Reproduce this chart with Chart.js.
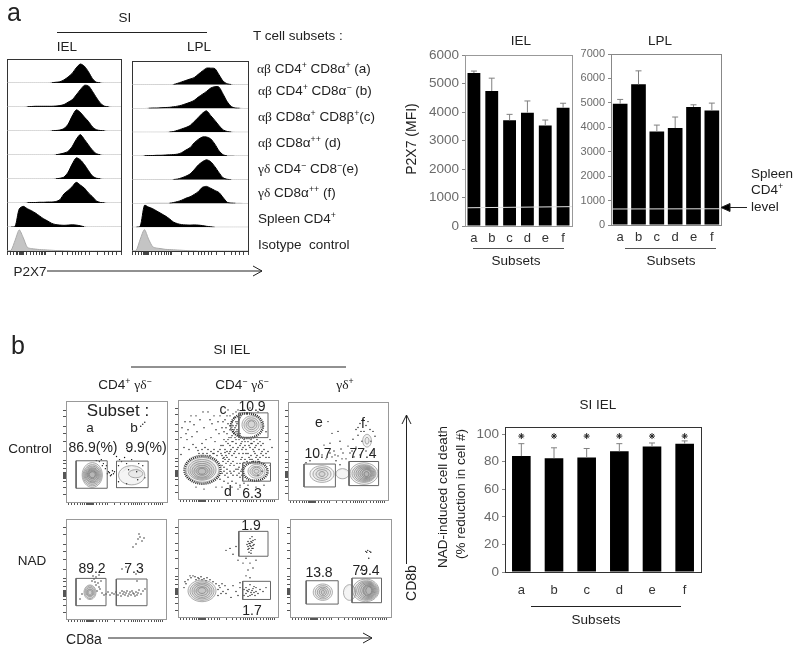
<!DOCTYPE html>
<html>
<head>
<meta charset="utf-8">
<script src="https://cdn.jsdelivr.net/npm/chart.js@4/dist/chart.umd.js"></script>
<style>
html,body{margin:0;padding:0;background:#fff;}
#fig{position:relative;width:800px;height:651px;overflow:hidden;font-family:'Liberation Sans',Arial,sans-serif;color:#222;}
#fig canvas{position:absolute;}
.t{position:absolute;white-space:nowrap;transform:translate(-50%,-50%);line-height:1;}
.l{transform:translate(0,-50%);}
.g{font-family:'Liberation Serif',serif;}
sup{font-size:65%;line-height:0;}
svg{position:absolute;left:0;top:0;}
</style>
</head>
<body>
<div id="fig"></div>
<script>
// ---- bar chart data ----
var subsets = ['a','b','c','d','e','f'];
var ielMfi = [5370,4740,3710,3980,3530,4150];
var ielUpper = [5440,5190,3920,4390,3720,4310];
var ielSpleen = [640,680];
var lplMfi = [4960,5760,3830,3970,4830,4690];
var lplUpper = [5140,6310,4090,4420,4920,4990];
var lplSpleen = [655,665];
var deathPct = [84,82.5,83,87.5,91,93];
var deathUpper = [93,90,89.5,93,93.5,95];
var deathStars = [98.5,98.5,98.5,98.5,98.5,98.5];

// ---- histograms, height of each channel bin in % of the row ----
var histBins = [0,1,2,3,4,5,6,7,8,9,10,11,12,13,14,15,16,17,18,19,20,21,22,23,24,25,26,27,28];
var histTicks = [0,.8,1.6,2.3,2.7,3,3.2,3.4,3.6,3.8,4,4.7,5.7,6.4,7.2,7.9,8.4,8.8,9.2,9.5,12,13.6,14.8,16,16.8,17.5,18.4,19.3,20.3,22.3,24,25,26,27,28];
var ielA = [0,0,0,0,0,0,0,0,0,0,0,1,3,5,13,25,40,63,79,70,47,18,3,1,0,0,0,0,0];
var ielB = [0,0,0,0,0,1,2,3,3,3,3,3,4,6,10,20,30,50,72,90,88,65,38,15,3,1,0,0,0];
var ielC = [0,0,0,0,0,0,0,0,0,0,0,1,2,4,10,28,62,88,78,58,40,17,5,2,1,0,0,0,0];
var ielD = [0,0,0,0,0,0,0,0,0,0,0,0,1,4,8,15,35,65,85,65,42,20,5,1,0,0,0,0,0];
var ielE = [0,0,0,0,0,0,0,0,0,0,0,0,1,3,8,28,62,88,80,60,35,12,3,1,0,0,0,0,0];
var ielF = [0,0,0,0,0,1,2,2,3,3,4,4,6,14,38,52,68,86,75,62,42,26,8,2,1,0,0,0,0];
var ielSpl = [0,0,3,75,86,76,68,58,46,34,25,15,10,8,7,8,9,8,5,1,0,0,0,0,0,0,0,0,0];
var ielIso = [0,3,45,88,55,15,10,8,6,5,4,3,2,2,1,1,0,0,0,0,0,0,0,0,0,0,0,0,0];
var lplA = [0,0,0,0,0,0,0,0,0,0,1,6,12,18,24,30,44,58,70,70,68,42,15,4,1,0,0,0,0];
var lplB = [0,0,0,0,1,2,2,3,4,5,7,10,14,20,26,34,48,60,72,86,92,90,60,28,8,2,1,0,0];
var lplC = [0,0,0,0,0,0,0,0,0,1,3,8,14,20,28,45,62,80,90,70,50,28,10,3,1,0,0,0,0];
var lplD = [0,0,0,1,2,2,3,3,4,5,6,8,14,25,35,55,70,80,80,72,50,22,5,1,1,0,0,0,0];
var lplE = [0,0,0,0,0,0,0,0,0,0,1,3,8,15,24,42,62,76,84,76,55,30,8,2,0,0,0,0,0];
var lplF = [0,0,0,0,1,1,1,1,1,1,4,8,14,22,28,38,50,68,72,64,55,46,25,5,2,1,1,0,0];
var lplSpl = [0,0,5,92,85,78,68,58,48,36,22,15,11,10,9,10,9,7,4,2,0,0,0,0,0,0,0,0,0];
var lplIso = [0,2,50,90,50,18,12,10,7,6,5,4,3,2,1,1,0,0,0,0,0,0,0,0,0,0,0,0,0];

// ---- flow plots, all in 0-100 axis units. rings = [left,right,bottom,top], gates = [x1,x2,y1,y2] ----
var flowTicksX = [2,5,8,11,14,16,18,20,21,22,23,24,25,26,27,30,33,36,39,41,48,54,58,62,65,67,69,71,73,75,78,82,85,88,90,92,94,96];
var flowTicksY = [7,14,20,23,24,25,26,27,28,29,33,38,41,50,60,68,75,85,91];

var gatesCtl1 = [[10,40.8,13.6,40.8],[50,81.3,14.2,40.5]];
var ringsCtl1 = [[16,36,14.5,39],[17,35,16,37],[18,34,17.5,35.5],[19,33,19,34],[20,32,20,33],[21,31,21.5,32],[22,30,23,31],[23,29,24,30],[52,78,17,36],[62,76,24,32]];
var dotsCtl1 = [41,28,43,29,45,27,47,28,44,26,48,30,42,30,39,33,40,36,37,38,36,36,35,42,33,40,46,31,52,36,55,40,53,42,58,44,60,38,65,42,72,38,76,36,70,30,62,32,74,75,76,77,78,79,70,72,60,53,63,50,50,45,30,41,52,20,60,18,71,22,78,24];

var gatesCtl2 = [[60.8,90,62,87],[64.7,92.5,18,36.4]];
var ringsCtl2 = [[8,41,17,42],[10,38,19,40],[12,36,20,38],[14,34,21,36],[16,32,22,34],[18,30,24,32],[20,28,25,31],[64,83,66,84],[66,81,68,82],[68,79,70,80],[70,77,72,79],[70,87,21,35],[72,85,23,33],[74,83,24,32],[76,81,26,30]];
var halosCtl2 = [[6.5,42.5,15.5,43.5],[53,85,61.5,86.5],[65,89.5,18.5,37.5]];
var dotsCtl2 = [4,72,7,78,10,70,13,84,16,75,19,68,3,62,9,60,14,63,22,80,26,72,30,88,34,76,38,70,28,60,24,56,18,52,11,50,6,52,3,45,33,62,37,58,41,66,44,72,47,80,42,84,50,90,36,50,40,48,43,54,46,60,49,66,52,70,55,74,58,78,47,50,50,56,53,62,56,66,59,70,44,44,48,44,52,48,55,52,58,56,61,60,45,38,48,36,51,40,54,44,57,48,60,52,63,56,66,60,69,62,46,32,49,30,52,34,55,38,58,42,61,46,64,50,67,54,70,58,73,60,76,58,79,60,82,58,85,56,72,52,75,50,78,54,81,50,84,48,70,46,73,44,76,48,79,44,82,42,85,44,88,46,91,42,64,42,67,40,62,36,65,34,60,30,63,28,44,26,47,24,50,22,53,26,56,28,59,24,62,22,42,20,46,18,50,16,54,18,58,16,62,14,38,12,44,12,26,10,18,12,32,44,35,46,29,46,25,46,21,46,52,74,54,78,56,82,52,84,55,86,58,88,50,76,48,72,46,68,51,62,54,58,57,62,60,66,62,64,45,78,49,84,56,70,57,72,58,74,59,76,60,78,61,80,62,82,63,84,58,68,60,68,62,66,55,68,
  45,41,47,47,49,42,51,46,53,50,56,46,59,50,62,54,65,52,68,50,71,54,74,56,77,52,80,56,83,54,86,50,65,46,68,46,71,42,74,40,77,46,80,40,83,46,63,40,66,37,69,38,72,40,75,38,78,42,81,38,44,34,47,40,50,38,53,36,56,34,59,36,61,32,64,30,46,28,49,26,52,28,55,24,58,30,61,26,64,24,43,46,46,42,49,48,52,54,55,58,58,60,61,64,64,58,67,58,70,62,73,56,76,62,54,64,50,60,48,58,45,54,42,50,39,44,36,46,33,48,30,50,27,52,24,50,20,49,15,55,8,66,12,78,40,78,36,84,32,80,25,88,18,84,60,90,66,90,72,92,80,88,88,68,92,60,94,52,92,34,90,48,88,42,86,36,84,28,80,24,54,12,60,10,70,14,78,12,86,14,62,12,66,16];

var gatesCtl3 = [[16,47.4,13.3,36.7],[61,90.6,14.7,39.3]];
var ringsCtl3 = [[22,46,18,35],[25,43,20,33],[28,40,22,31],[31,37,24,29],[48,61,21.7,32],[62,90,16,38],[64,88,18,36],[66,87,19,35],[68,86,20,34],[70,85,21,33],[72,84,22,32],[74,83,23,31],[76,81,24,29],[74.7,83.4,54,67],[77,81,57,64]];
var dotsCtl3 = [40,80,44,68,50,70,52,60,46,50,50,45,55,48,58,42,60,55,65,62,68,72,72,78,75,82,78,76,80,80,70,66,74,60,82,72,85,70,78,50,84,48,72,46,66,44,62,48,54,42,48,40,44,44,38,42,34,46,28,44,22,40,18,38,42,58,36,56,52,36,42,48,47,46,53,52,64,50,70,74,73,70,76,70,68,54,83,60,87,65];

var gatesNad1 = [[10,40,13.3,40.6],[50.3,81,13.3,40]];
var ringsNad1 = [[18,30,19.5,34],[19,29,20.5,33],[20,28,22,31.5],[21,27,23,30],[22,26,24,29]];
var dotsNad1 = [26,38,28,40,30,42,32,36,30,34,33,32,31,28,34,30,29,37,27,43,35,38,33,44,36,26,38,24,40,25,42,27,44,24,46,26,48,25,50,27,52,24,54,26,55,23,56,28,57,25,58,27,59,24,60,26,61,28,62,23,63,25,64,27,65,24,66,28,67,26,68,25,69,23,70,27,71,24,72,26,73,29,75,25,77,28,79,30,72,80,74,82,76,78,78,81,70,75,73,85,67,72,56,50,60,52,70,45,71,38,16,25,14,20];

var gatesNad2 = [[60.8,90,62,87.4],[64.7,92.5,17.9,36.4]];
var ringsNad2 = [[10,38,15.6,37.7],[12,36,17,36],[14,34,18.5,34.5],[16,32,20,33],[18,30,22,31],[20,28,24,30]];
var dotsNad2 = [72,75,74,76,70,72,73,72,71,70,75,78,72,80,74,82,70,77,73,68,75,70,76,74,69,74,71,66,73,65,74,70,72,73,70,69,75,73,77,79,73,77,71,75,48,68,52,70,55,64,58,72,60,58,65,55,68,60,72,55,75,50,78,58,70,48,68,42,72,40,62,35,66,28,68,24,70,26,72,22,74,27,76,25,78,30,80,24,68,30,70,21,72,33,75,29,77,22,82,28,85,26,88,30,73,25,71,28,66,22,69,27,74,23,76,31,78,26,42,30,45,26,48,24,50,28,53,20,55,32,58,26,60,22,62,30,40,22,44,34,47,32,10,38,13,40,15,42,18,38,20,40,23,41,26,39,29,40,32,38,35,36,38,34,8,34,6,30,40,28,12,42,17,41,21,39,24,38,28,37,7,36,41,32,43,24];

var gatesNad3 = [[16,47.7,13.2,37],[61.4,90.6,14.6,39.7]];
var ringsNad3 = [[23,42,17,33.7],[25,40,18.5,32],[27,38,20,30.5],[29,36,21.5,29],[31,34,23,27.5],[53,65,17,33],[62,88,15.6,38.7],[64,87,17,37],[66,86,18,36],[68,85,19,35],[70,84,20,34],[72,83,21,33],[73,82,22,32],[75,81,23,31]];
var dotsNad3 = [75,67,77,68,79,67,80,66,76,66,78,60,70,48,74,44];

// ---- small helpers ----
var fig = document.getElementById('fig');

function txt(html, x, y, size, extra) {
  var d = document.createElement('div');
  d.className = 't' + (extra && extra.left ? ' l' : '');
  d.style.left = x + 'px';
  d.style.top = y + 'px';
  d.style.fontSize = size + 'px';
  if (extra && extra.color) d.style.color = extra.color;
  if (extra && extra.rot) d.style.transform = 'translate(-50%,-50%) rotate(-90deg)';
  d.innerHTML = html;
  fig.appendChild(d);
}

function makeCanvas(x, y, w, h) {
  var c = document.createElement('canvas');
  c.width = w; c.height = h;
  c.style.left = x + 'px';
  c.style.top = y + 'px';
  c.style.width = w + 'px';
  c.style.height = h + 'px';
  fig.appendChild(c);
  return c;
}

function pairs(flat) {
  var out = [];
  for (var i = 0; i < flat.length; i += 2) out.push({x: flat[i], y: flat[i + 1]});
  return out;
}

function ringPoints(r) {
  var cx = (r[0] + r[1]) / 2, cy = (r[2] + r[3]) / 2;
  var L = {x: r[0], y: cy}, T = {x: cx, y: r[3]}, R = {x: r[1], y: cy}, B = {x: cx, y: r[2]};
  return [L, T, R, B, L, T, R];
}

// outer segments only steer the curve, they are not drawn
function hideEnds(ctx) {
  return (ctx.p0DataIndex === 0 || ctx.p0DataIndex === 5) ? 'rgba(0,0,0,0)' : undefined;
}

var framePlugin = {
  id: 'frame',
  beforeDatasetsDraw: function(chart, args, opts) {
    if (!opts.color) return;
    var a = chart.chartArea, c = chart.ctx;
    c.save();
    c.strokeStyle = opts.color;
    c.lineWidth = 1;
    c.strokeRect(Math.round(a.left) + .5, Math.round(a.top) + .5, Math.round(a.right - a.left), Math.round(a.bottom - a.top));
    c.restore();
  }
};

var errPlugin = {
  id: 'errs',
  afterDatasetsDraw: function(chart, args, opts) {
    if (!opts.upper) return;
    var c = chart.ctx, y = chart.scales.y, bars = chart.getDatasetMeta(opts.index || 0).data;
    c.save();
    c.strokeStyle = '#808080';
    c.lineWidth = 1;
    bars.forEach(function(b, i) {
      var top = y.getPixelForValue(opts.upper[i]);
      c.beginPath();
      c.moveTo(b.x, b.y); c.lineTo(b.x, top);
      c.moveTo(b.x - 3, top); c.lineTo(b.x + 3, top);
      c.stroke();
    });
    if (opts.spleen) {
      var first = bars[0], a = chart.chartArea;
      c.strokeStyle = '#e2e2e2';
      c.beginPath();
      c.moveTo(first.x - first.width / 2, y.getPixelForValue(opts.spleen[0]));
      c.lineTo(a.right, y.getPixelForValue(opts.spleen[1]));
      c.stroke();
    }
    c.restore();
  }
};

// ---- bar charts ----
function barChart(opts) {
  var pad = 10, yW = 40, xH = 30;
  var c = makeCanvas(opts.left - yW - pad, opts.top - pad, opts.w + yW + 2 * pad, opts.h + xH + 2 * pad);
  var ds = [{type: 'bar', data: opts.values, backgroundColor: '#000', barPercentage: opts.barPct, categoryPercentage: 1}];
  if (opts.stars) {
    ds.push({type: 'line', data: opts.stars, showLine: false, pointStyle: 'star', pointRadius: 3, borderColor: '#222', borderWidth: 1});
  }
  new Chart(c, {
    data: {labels: subsets, datasets: ds},
    plugins: [framePlugin, errPlugin],
    options: {
      responsive: false, animation: false,
      layout: {padding: pad},
      plugins: {
        legend: {display: false}, tooltip: {enabled: false},
        frame: {color: opts.frame},
        errs: {upper: opts.upper, spleen: opts.spleen}
      },
      scales: {
        x: {
          grid: {display: false, drawTicks: false},
          border: {color: '#555'},
          ticks: {color: '#333', font: {family: 'Liberation Sans', size: 13}, padding: opts.labelPad, maxRotation: 0},
          afterFit: function(s) { s.height = xH; }
        },
        y: {
          min: 0, max: opts.max,
          grid: {drawOnChartArea: false, tickLength: 3, color: '#888'},
          border: {color: '#888'},
          afterBuildTicks: function(s) {
            s.ticks = opts.ticks.map(function(v) { return {value: v}; });
          },
          ticks: {color: '#6a6a6a', font: {family: 'Liberation Sans', size: opts.tickSize}, padding: 3, callback: function(v) { return String(v); }},
          afterFit: function(s) { s.width = yW; }
        }
      }
    }
  });
}

barChart({left: 465, top: 54, w: 107, h: 172, values: ielMfi, upper: ielUpper, spleen: ielSpleen, max: 6000, ticks: [0,1000,2000,3000,4000,5000,6000], tickSize: 13.5, barPct: .72, frame: '#999', labelPad: 5});
barChart({left: 611, top: 54, w: 110, h: 171, values: lplMfi, upper: lplUpper, spleen: lplSpleen, max: 7000, ticks: [0,1000,2000,3000,4000,5000,6000,7000], tickSize: 11, barPct: .8, frame: '#888', labelPad: 5});
barChart({left: 505, top: 426, w: 196, h: 146, values: deathPct, upper: deathUpper, stars: deathStars, max: 105, ticks: [0,20,40,60,80,100], tickSize: 13.5, barPct: .57, frame: '#333', labelPad: 11});

// ---- histogram panels: eight rows stacked on one chart, the last axis of a stack sits on top ----
function histPanel(left, top, w, h, rows) {
  var pad = 3, xH = 6;
  var c = makeCanvas(left - pad, top - pad, w + 2 * pad, h + xH + 2 * pad);
  var scales = {
    x: {
      type: 'linear', min: 0, max: 28,
      border: {display: false},
      grid: {drawOnChartArea: false, tickLength: 4, color: '#444'},
      ticks: {display: false},
      afterBuildTicks: function(s) { s.ticks = histTicks.map(function(v) { return {value: v}; }); },
      afterFit: function(s) { s.height = xH; }
    }
  };
  var datasets = rows.slice().reverse().map(function(vals, i) {
    var id = 'y' + i, isIso = i === 0;
    scales[id] = {
      type: 'linear', min: 0, max: 100, stack: 'rows', stackWeight: 1,
      display: true, position: 'left',
      grid: {display: false}, border: {display: false},
      ticks: {display: false},
      afterFit: function(s) { s.width = 0; }
    };
    return {
      type: 'line', yAxisID: id, xAxisID: 'x',
      data: vals.map(function(v, j) { return {x: histBins[j], y: v}; }),
      fill: 'origin', tension: .25, pointRadius: 0, borderWidth: 1,
      backgroundColor: isIso ? '#c4c4c4' : '#000',
      borderColor: isIso ? '#aaa' : '#000',
      segment: {borderColor: function(ctx) { return (ctx.p0.parsed.y <= 1 && ctx.p1.parsed.y <= 1) ? '#b0b0b0' : undefined; }}
    };
  });
  new Chart(c, {
    data: {datasets: datasets},
    plugins: [framePlugin],
    options: {
      responsive: false, animation: false,
      layout: {padding: pad},
      plugins: {legend: {display: false}, tooltip: {enabled: false}, frame: {color: '#333'}},
      scales: scales
    }
  });
}

histPanel(7, 59, 114, 192, [ielA, ielB, ielC, ielD, ielE, ielF, ielSpl, ielIso]);
histPanel(132, 61, 116, 190, [lplA, lplB, lplC, lplD, lplE, lplF, lplSpl, lplIso]);

// ---- flow plots ----
function flowPanel(left, top, w, h, p) {
  var pad = 2, yW = 5, xH = 5;
  var c = makeCanvas(left - yW - pad, top - pad, w + yW + 2 * pad, h + xH + 2 * pad);
  var ds = [];
  p.gates.forEach(function(g) {
    ds.push({data: [{x: g[0], y: g[2]}, {x: g[1], y: g[2]}, {x: g[1], y: g[3]}, {x: g[0], y: g[3]}, {x: g[0], y: g[2]}], showLine: true, pointRadius: 0, borderWidth: 1, borderColor: '#666'});
  });
  p.rings.forEach(function(r) {
    ds.push({data: ringPoints(r), showLine: true, pointRadius: 0, tension: .55, borderWidth: .7, borderColor: '#8a8a8a', fill: 'shape', backgroundColor: 'rgba(70,70,70,0.06)', segment: {borderColor: hideEnds}});
  });
  (p.halos || []).forEach(function(r) {
    ds.push({data: ringPoints(r), showLine: true, pointRadius: 0, tension: .55, borderWidth: 2.5, borderDash: [1, 1], borderColor: '#222', segment: {borderColor: hideEnds}});
  });
  ds.push({data: pairs(p.dots), pointRadius: .7, pointBorderWidth: 0, pointBackgroundColor: '#111'});
  new Chart(c, {
    type: 'scatter',
    data: {datasets: ds},
    plugins: [framePlugin],
    options: {
      responsive: false, animation: false,
      layout: {padding: pad},
      plugins: {legend: {display: false}, tooltip: {enabled: false}, frame: {color: '#999'}},
      scales: {
        x: {
          min: 0, max: 100, border: {display: false},
          grid: {drawOnChartArea: false, tickLength: 3, color: '#555'},
          ticks: {display: false},
          afterBuildTicks: function(s) { s.ticks = flowTicksX.map(function(v) { return {value: v}; }); },
          afterFit: function(s) { s.height = xH; }
        },
        y: {
          min: 0, max: 100, border: {display: false},
          grid: {drawOnChartArea: false, tickLength: 3, color: '#555'},
          ticks: {display: false},
          afterBuildTicks: function(s) { s.ticks = flowTicksY.map(function(v) { return {value: v}; }); },
          afterFit: function(s) { s.width = yW; }
        }
      }
    }
  });
}

flowPanel(66, 399, 103, 103, {gates: gatesCtl1, rings: ringsCtl1, dots: dotsCtl1});
flowPanel(178, 398, 102, 101, {gates: gatesCtl2, rings: ringsCtl2, halos: halosCtl2, dots: dotsCtl2});
flowPanel(288, 400, 102, 100, {gates: gatesCtl3, rings: ringsCtl3, dots: dotsCtl3});
flowPanel(66, 517, 102, 102, {gates: gatesNad1, rings: ringsNad1, dots: dotsNad1});
flowPanel(178, 517, 102, 100, {gates: gatesNad2, rings: ringsNad2, dots: dotsNad2});
flowPanel(290, 517, 103, 100, {gates: gatesNad3, rings: ringsNad3, dots: dotsNad3});

// ---- lines and arrows ----
var ns = 'http://www.w3.org/2000/svg';
var svg = document.createElementNS(ns, 'svg');
svg.setAttribute('width', 800);
svg.setAttribute('height', 651);
svg.innerHTML =
  '<g stroke="#222" fill="none" stroke-width="1">' +
  '<path d="M57 32.5H207"/>' +
  '<path d="M47 271H262M253 266L262 271L253 276"/>' +
  '<path d="M473 248.5H564" stroke="#555"/>' +
  '<path d="M625 248.5H716" stroke="#555"/>' +
  '<path d="M747 207.5H722"/>' +
  '<path d="M721 207.5L730 203.5V211.5Z" fill="#000"/>' +
  '<path d="M531 606.5H681"/>' +
  '<path d="M131 367H346"/>' +
  '<path d="M108 638H372M363 633L372 638L363 643"/>' +
  '<path d="M406.5 564V415M402 424L406.5 415L411 424"/>' +
  '</g>';
fig.appendChild(svg);

// ---- text ----
var ab = '<span class="g">\u03B1\u03B2</span> ';
var gd = '<span class="g">\u03B3\u03B4</span> ';
txt('a', 14, 12, 25);
txt('b', 18, 345, 25);
txt('SI', 125, 18, 13.5);
txt('IEL', 67, 47, 13.5);
txt('LPL', 199, 47, 13.5);
txt('T cell subsets :', 253, 36, 13.5, {left: 1});
txt(ab + 'CD4<sup>+</sup> CD8\u03B1<sup>+</sup> (a)', 257, 69, 13.5, {left: 1});
txt(ab + 'CD4<sup>+</sup> CD8\u03B1<sup>\u2212</sup> (b)', 258, 91, 13.5, {left: 1});
txt(ab + 'CD8\u03B1<sup>+</sup> CD8\u03B2<sup>+</sup>(c)', 258, 117, 13.5, {left: 1});
txt(ab + 'CD8\u03B1<sup>++</sup> (d)', 258, 143, 13.5, {left: 1});
txt(gd + 'CD4<sup>\u2212</sup> CD8<sup>\u2212</sup>(e)', 258, 169, 13.5, {left: 1});
txt(gd + 'CD8\u03B1<sup>++</sup> (f)', 258, 193, 13.5, {left: 1});
txt('Spleen CD4<sup>+</sup>', 258, 219, 13.5, {left: 1});
txt('Isotype&nbsp; control', 258, 245, 13.5, {left: 1});
txt('P2X7', 30, 272, 13.5);

txt('IEL', 521, 41, 13.5);
txt('LPL', 660, 41, 13.5);
txt('P2X7 (MFI)', 411, 139, 14, {rot: 1});
txt('Subsets', 516, 261, 13.5);
txt('Subsets', 671, 261, 13.5);
txt('Spleen', 751, 174, 13.5, {left: 1});
txt('CD4<sup>+</sup>', 751, 190, 13.5, {left: 1});
txt('level', 751, 207, 13.5, {left: 1});

txt('SI IEL', 232, 350, 13.5);
txt('CD4<sup>+</sup> ' + gd.trim() + '<sup>\u2212</sup>', 125, 385, 13.5);
txt('CD4<sup>\u2212</sup> ' + gd.trim() + '<sup>\u2212</sup>', 242, 385, 13.5);
txt(gd.trim() + '<sup>+</sup>', 345, 385, 13.5);
txt('Control', 30, 449, 13.5);
txt('NAD', 32, 561, 13.5);
txt('CD8a', 84, 639, 14);
txt('CD8b', 411, 583, 14, {rot: 1});

txt('Subset :', 118, 410, 17);
txt('a', 90, 428, 13.5);
txt('b', 134, 428, 13.5);
txt('86.9(%)', 93, 447, 14);
txt('9.9(%)', 146, 447, 14);
txt('89.2', 92, 568, 14);
txt('7.3', 134, 568, 14);
txt('c', 223, 409, 14);
txt('10.9', 252, 406, 14);
txt('d', 228, 491, 14);
txt('6.3', 252, 493, 14);
txt('e', 319, 422, 14);
txt('f', 363, 423, 14);
txt('10.7', 318, 453, 14);
txt('77.4', 363, 453, 14);
txt('1.9', 251, 525, 14);
txt('1.7', 252, 610, 14);
txt('13.8', 319, 572, 14);
txt('79.4', 366, 570, 14);

txt('SI IEL', 598, 405, 13.5);
txt('NAD-induced cell death', 443, 497, 13.5, {rot: 1});
txt('(% reduction in cell #)', 461, 494, 13.5, {rot: 1});
txt('Subsets', 596, 620, 13.5);
</script>
</body>
</html>
